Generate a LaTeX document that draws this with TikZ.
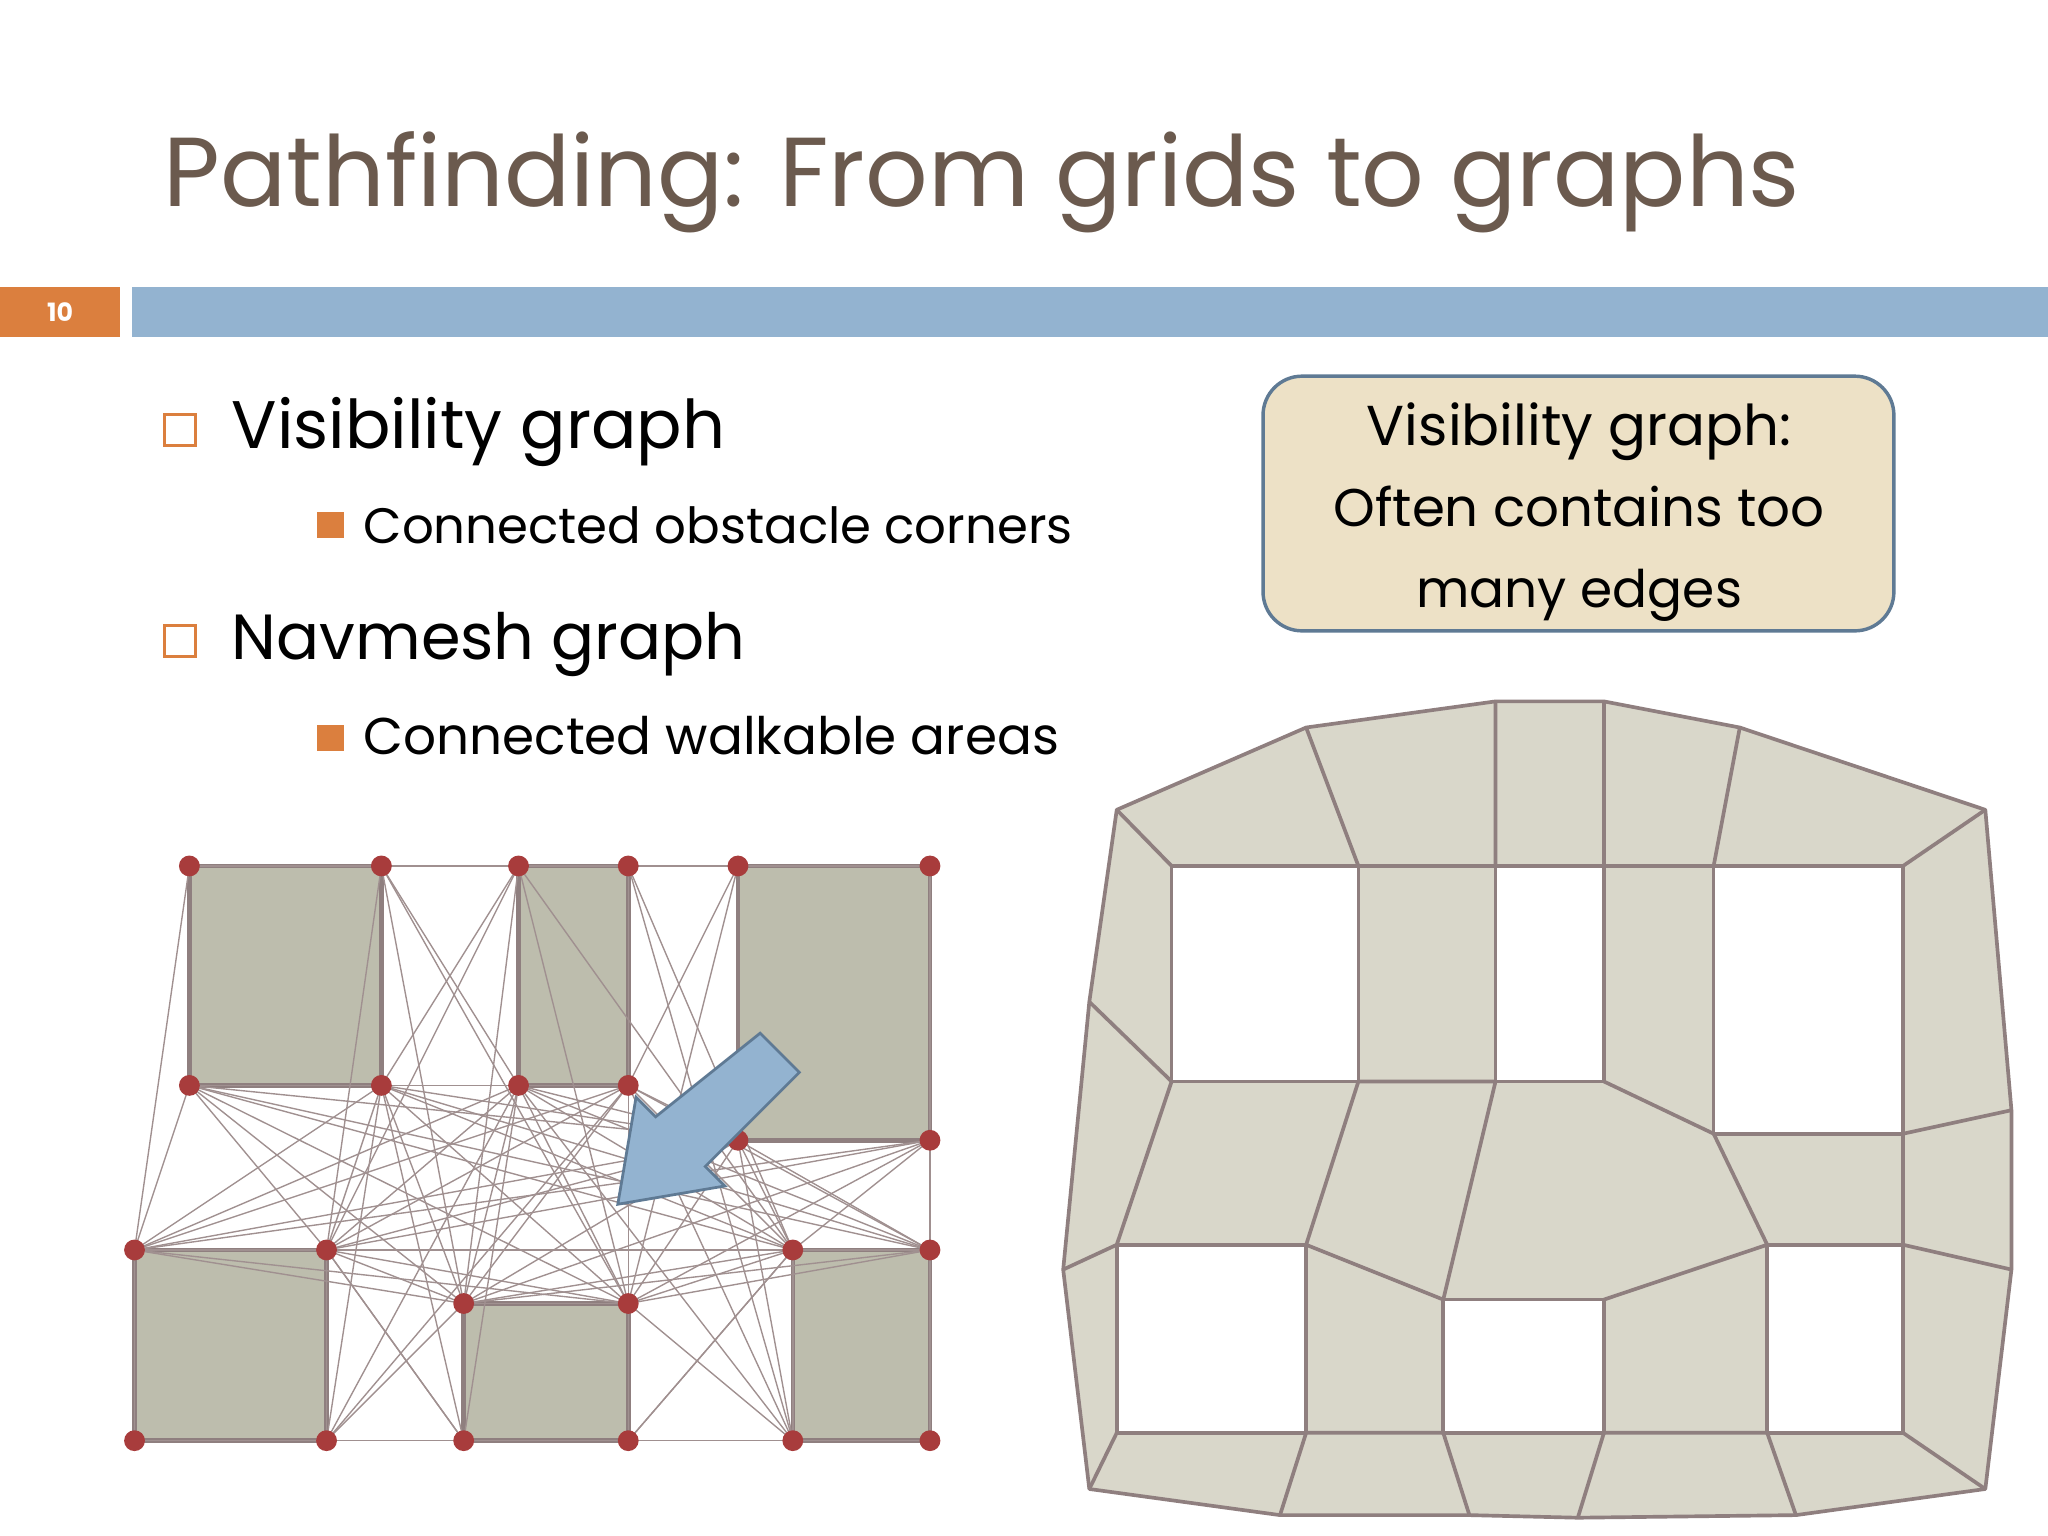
\documentclass[tikz,border=0pt]{standalone}
\usepackage{fontspec}
\setmainfont{Poppins}
\usepackage{graphicx}
\definecolor{ttl}{HTML}{6B5A4E}
\definecolor{org}{HTML}{DB7F3E}
\definecolor{bbar}{HTML}{93B3D0}
\definecolor{bedge}{HTML}{5F7A94}
\definecolor{cfill}{HTML}{EDE1C6}
\definecolor{obs}{HTML}{BDBDAD}
\definecolor{obsl}{HTML}{8F7F7F}
\definecolor{dot}{HTML}{A83C3C}
\definecolor{vis}{HTML}{A09090}
\definecolor{nav}{HTML}{D9D7CA}
\tikzset{
 txt/.style={anchor=base west,inner sep=0pt},
 ctxt/.style={anchor=base,inner sep=0pt},
 vtx/.style={circle,fill=dot,inner sep=0pt,minimum size=16*0.567pt},
 obst/.style={fill=obs,draw=obsl,line width=2pt},
 navl/.style={draw=obsl,line width=1.6pt,line join=round},
}
\begin{document}
\begin{tikzpicture}[x=0.02cm,y=-0.02cm]
\useasboundingbox (0,0) rectangle (1568,1176);
\fill[white] (0,0) rectangle (1568,1176);
% title
\node[txt,text=ttl] (title) at (125,158) {\resizebox{713pt}{!}{Pathfinding: From grids to graphs}};
\fill[org] (0,220) rectangle (92,258);
\node[text=white,font=\bfseries\fontsize{11}{11}\selectfont] (num) at (46,239) {10};
\fill[bbar] (101,220) rectangle (1568,258);
% bullets
\draw[org,line width=1.3pt] (126,317) rectangle (150,341);
\draw[org,line width=1.3pt] (126,479) rectangle (150,503);
\fill[org] (243,392) rectangle (263,412);
\fill[org] (243,555) rectangle (263,575);
\node[txt] (b1) at (177,343) {\resizebox{215pt}{!}{Visibility graph}};
\node[txt] (b2) at (278,416) {\resizebox{309pt}{!}{Connected obstacle corners}};
\node[txt] (b3) at (177,505) {\resizebox{224pt}{!}{Navmesh graph}};
\node[txt] (b4) at (278,578) {\resizebox{303pt}{!}{Connected walkable areas}};
% callout
\draw[fill=cfill,draw=bedge,line width=1.5pt,rounded corners=30*0.567pt] (967,288) rectangle (1450,483);
\node[ctxt] (c1) at (1209,341) {\resizebox{185pt}{!}{Visibility graph:}};
\node[ctxt] (c2) at (1209,403) {\resizebox{214pt}{!}{Often contains too}};
\node[ctxt] (c3) at (1209,465) {\resizebox{142pt}{!}{many edges}};
% visibility graph obstacles
\draw[obst] (145,663) rectangle (292,831);
\draw[obst] (397,663) rectangle (481,831);
\draw[obst] (565,663) rectangle (712,873);
\draw[obst] (103,957) rectangle (250,1103);
\draw[obst] (355,998) rectangle (481,1103);
\draw[obst] (607,957) rectangle (712,1103);
% vertices
\foreach \n/\x/\y in {A/145/663,B/292/663,C/397/663,D/481/663,E/565/663,F/712/663,
 G/145/831,H/292/831,I/397/831,J/481/831,K/565/873,L/712/873,
 M/103/957,N/250/957,O/607/957,P/712/957,Q/355/998,R/481/998,
 S/103/1103,T/250/1103,U/355/1103,V/481/1103,W/607/1103,X/712/1103}
 \coordinate (\n) at (\x,\y);
% edges
\begin{scope}[draw=vis,line width=0.6pt]
\foreach \a/\b in {A/B,B/C,C/D,D/E,E/F,A/M,F/L,L/P,P/X,S/T,T/U,U/V,V/W,W/X,M/S,
 G/I,G/J,G/K,G/M,G/N,G/O,G/P,G/Q,G/R,
 H/I,H/J,H/K,H/M,H/N,H/O,H/P,H/Q,H/R,H/T,H/U,
 I/K,I/M,I/N,I/O,I/P,I/Q,I/R,I/T,I/U,I/W,
 J/K,J/M,J/N,J/O,J/P,J/Q,J/T,J/W,
 K/M,K/N,K/O,K/P,K/Q,K/R,K/W,
 L/M,L/N,L/O,L/Q,L/R,
 M/N,M/O,M/P,M/Q,M/R,
 N/O,N/P,N/Q,N/R,N/U,
 O/P,O/Q,O/R,O/V,P/Q,P/R,Q/R,R/W,
 B/I,B/N,B/Q,B/R,C/H,C/N,C/Q,C/R,C/O,
 D/O,D/R,D/W,D/J,E/J,E/R,
 N/T,Q/T,R/V,O/W,U/N,V/O}
 \draw (\a) -- (\b);
\end{scope}
\foreach \n in {A,B,C,D,E,F,G,H,I,J,K,L,M,N,O,P,Q,R,S,T,U,V,W,X}
 \node[vtx] (v\n) at (\n) {};
% arrow
\draw[fill=bbar,draw=bedge,line width=1.2pt,line join=miter] (582,791) -- (612,821) -- (540,893) -- (555,908) -- (473,922) -- (487,840) -- (502,855) -- cycle;
% navmesh
\fill[nav] (855,620) -- (1000,557) -- (1145,537) -- (1228,537) -- (1332,557) -- (1520,620) -- (1540,850) -- (1540,972) -- (1520,1140) -- (1375,1160) -- (1208,1162) -- (1125,1160) -- (980,1160) -- (834,1140) -- (814,972) -- (834,767) -- cycle;
\fill[white] (897,663) rectangle (1040,828) (1145,663) rectangle (1228,828) (1312,663) rectangle (1457,868) (855,953) rectangle (1000,1097) (1105,995) rectangle (1228,1097) (1353,953) rectangle (1457,1097);
\draw[navl] (855,620) -- (1000,557) -- (1145,537) -- (1228,537) -- (1332,557) -- (1520,620) -- (1540,850) -- (1540,972) -- (1520,1140) -- (1375,1160) -- (1208,1162) -- (1125,1160) -- (980,1160) -- (834,1140) -- (814,972) -- (834,767) -- cycle;
\draw[navl] (897,663) rectangle (1040,828) (1145,663) rectangle (1228,828) (1312,663) rectangle (1457,868) (855,953) rectangle (1000,1097) (1105,995) rectangle (1228,1097) (1353,953) rectangle (1457,1097);
\draw[navl] (1040,663) -- (1145,663) (1228,663) -- (1312,663) (1040,828) -- (1145,828)
 (855,620) -- (897,663) (1000,557) -- (1040,663) (1145,537) -- (1145,663) (1228,537) -- (1228,663)
 (1332,557) -- (1312,663) (1520,620) -- (1457,663) (834,767) -- (897,828)
 (897,828) -- (855,953) (1040,828) -- (1000,953) (1145,828) -- (1105,995)
 (1228,828) -- (1312,868) -- (1353,953) (1457,868) -- (1540,850)
 (1457,868) -- (1457,953) (1000,953) -- (1105,995) (1228,995) -- (1353,953)
 (1457,953) -- (1540,972) (855,953) -- (814,972) (1000,1097) -- (1105,1097) (1228,1097) -- (1353,1097)
 (1457,1097) -- (1520,1140) (1353,1097) -- (1375,1160) (1228,1097) -- (1208,1162)
 (1105,1097) -- (1125,1160) (1000,1097) -- (980,1160) (855,1097) -- (834,1140);
\end{tikzpicture}
\end{document}
